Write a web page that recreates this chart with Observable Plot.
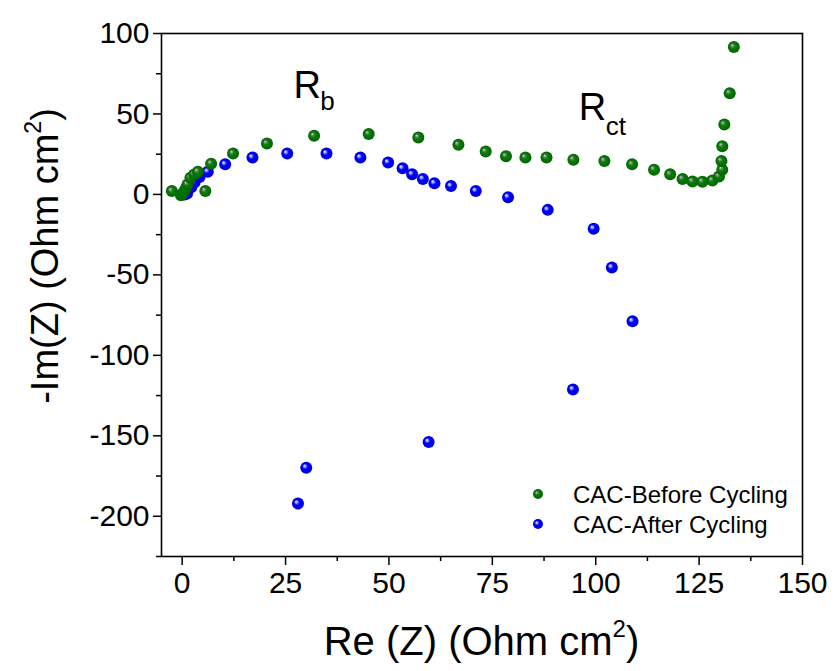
<!DOCTYPE html>
<html><head><meta charset="utf-8">
<script src="https://cdn.jsdelivr.net/npm/d3@7"></script>
<script src="https://cdn.jsdelivr.net/npm/@observablehq/plot@0.6"></script>
<style>body{margin:0;background:#fff;font-family:Arial,"Liberation Sans",sans-serif}</style>
</head><body><div id="chart"></div>
<script>
const seriesNames = ["CAC-Before Cycling", "CAC-After Cycling"];
const beforeX = [-2.5, -0.3, 0.1, 0.5, 0.9, 1.3, 2.0, 2.9, 3.8, 5.6, 7.0, 12.3, 20.5, 31.9, 45.1, 57.1, 66.8, 73.4, 78.3, 83.0, 88.1, 94.6, 102.1, 108.8, 114.1, 118.0, 121.0, 123.4, 125.8, 128.2, 129.8, 130.6, 130.4, 130.6, 131.1, 132.4, 133.4];
const beforeY = [2.1, -0.5, 0.4, 1.8, 3.8, 6.2, 10.4, 12.4, 14.1, 2.1, 19.1, 25.4, 31.6, 36.4, 37.5, 35.4, 30.8, 26.6, 23.7, 22.9, 22.9, 21.6, 20.8, 18.7, 15.4, 12.5, 9.6, 8.1, 7.9, 8.7, 11.2, 15.4, 20.8, 30.0, 43.5, 62.9, 91.6];
const afterX = [0.6, 1.2, 2.2, 3.0, 4.2, 6.2, 10.4, 17.0, 25.4, 34.9, 43.1, 49.8, 53.3, 55.6, 58.2, 61.0, 65.0, 71.0, 78.8, 88.4, 99.5, 103.9, 108.9, 94.5, 59.6, 30.0, 28.0];
const afterY = [0.0, 0.6, 4.5, 7.5, 10.8, 14.1, 18.7, 22.9, 25.4, 25.4, 22.9, 19.8, 16.2, 12.5, 9.6, 6.9, 5.2, 2.1, -1.7, -9.6, -21.3, -45.4, -78.8, -121.2, -153.8, -169.8, -192.1];
const xTicks = [0, 25, 50, 75, 100, 125, 150];
const xMinor = [12.5, 37.5, 62.5, 87.5, 112.5, 137.5];
const yTicks = [-200, -150, -100, -50, 0, 50, 100];
const yMinor = [-225, -175, -125, -75, -25, 25, 75];
const annoMain = ["R", "R"];
const annoSub = ["b", "ct"];
const annoX = [26.9, 95.9];
const annoY = [59.7, 46.0];
const annoSubX = [33.4, 102.4];
const annoSubY = [52.3, 36.7];

const before = beforeX.map((x, i) => ({x, y: beforeY[i], s: seriesNames[0]}));
const after = afterX.map((x, i) => ({x, y: afterY[i], s: seriesNames[1]}));
const annos = annoMain.map((t, i) => ({t, sub: annoSub[i], x: annoX[i], y: annoY[i], xs: annoSubX[i], ys: annoSubY[i]}));

const font = "Arial, 'Liberation Sans', sans-serif";
const plot = Plot.plot({
  width: 835, height: 671,
  marginLeft: 161, marginRight: 33, marginTop: 33, marginBottom: 115,
  style: {fontFamily: font, background: "white", color: "black"},
  x: {domain: [-5, 150]},
  y: {domain: [-225, 100]},
  marks: [
    Plot.axisX({ticks: xTicks, tickSize: 9, tickPadding: 6, fontSize: 30, label: null, strokeWidth: 1.5, tickFormat: d => String(d)}),
    Plot.axisX({ticks: xMinor, tickSize: 5, text: null, label: null, strokeWidth: 1.5}),
    Plot.axisY({ticks: yTicks, tickSize: 8, tickPadding: 4, fontSize: 30, label: null, strokeWidth: 1.5, tickFormat: d => String(d)}),
    Plot.axisY({ticks: yMinor, tickSize: 5, text: null, label: null, strokeWidth: 1.5}),
    Plot.frame({stroke: "black", strokeWidth: 1.6}),
    Plot.dot(after, {x: "x", y: "y", r: 6, fill: "url(#ballBlue)"}),
    Plot.dot(before, {x: "x", y: "y", r: 6, fill: "url(#ballGreen)"}),
    Plot.text(annos, {x: "x", y: "y", text: "t", fontSize: 38, textAnchor: "start", lineAnchor: "bottom", fill: "black"}),
    Plot.text(annos, {x: "xs", y: "ys", text: "sub", fontSize: 26, textAnchor: "start", lineAnchor: "bottom", fill: "black"})
  ]
});

const svg = d3.select(plot);
const defs = svg.insert("defs", ":first-child");
function ball(id, stops) {
  const g = defs.append("radialGradient").attr("id", id)
    .attr("cx", "0.5").attr("cy", "0.5").attr("r", "0.5").attr("fx", "0.33").attr("fy", "0.33");
  stops.forEach(([o, c]) => g.append("stop").attr("offset", o).attr("stop-color", c));
}
ball("ballGreen", [[0, "#d8d8d8"], [0.18, "#8a8a8a"], [0.42, "#0a7f0a"], [1, "#006400"]]);
ball("ballBlue", [[0, "#f0f4ff"], [0.2, "#8fa0ff"], [0.45, "#0000ff"], [1, "#0000d8"]]);

// axis titles
const xt = svg.append("text").attr("x", 481.5).attr("y", 655).attr("text-anchor", "middle")
  .attr("font-family", font).attr("font-size", 40).attr("fill", "black");
xt.append("tspan").text("Re (Z) (Ohm cm");
xt.append("tspan").attr("font-size", 24).attr("dy", -18).text("2");
xt.append("tspan").attr("dy", 18).text(")");

const yt = svg.append("text").attr("transform", "translate(58,256) rotate(-90)").attr("text-anchor", "middle")
  .attr("font-family", font).attr("font-size", 38).attr("fill", "black");
yt.append("tspan").text("-Im(Z) (Ohm cm");
yt.append("tspan").attr("font-size", 23).attr("dy", -17).text("2");
yt.append("tspan").attr("dy", 17).text(")");

// legend
const lg = svg.append("g").attr("font-family", font).attr("font-size", 24).attr("text-anchor", "start");
[["ballGreen", 494], ["ballBlue", 524]].forEach(([id, cy], i) => {
  lg.append("circle").attr("cx", 538).attr("cy", cy).attr("r", 5).attr("fill", `url(#${id})`);
  lg.append("text").attr("x", 573).attr("y", cy + 8.5).attr("fill", "black").text(seriesNames[i]);
});

document.getElementById("chart").appendChild(plot);
</script>
</body></html>
